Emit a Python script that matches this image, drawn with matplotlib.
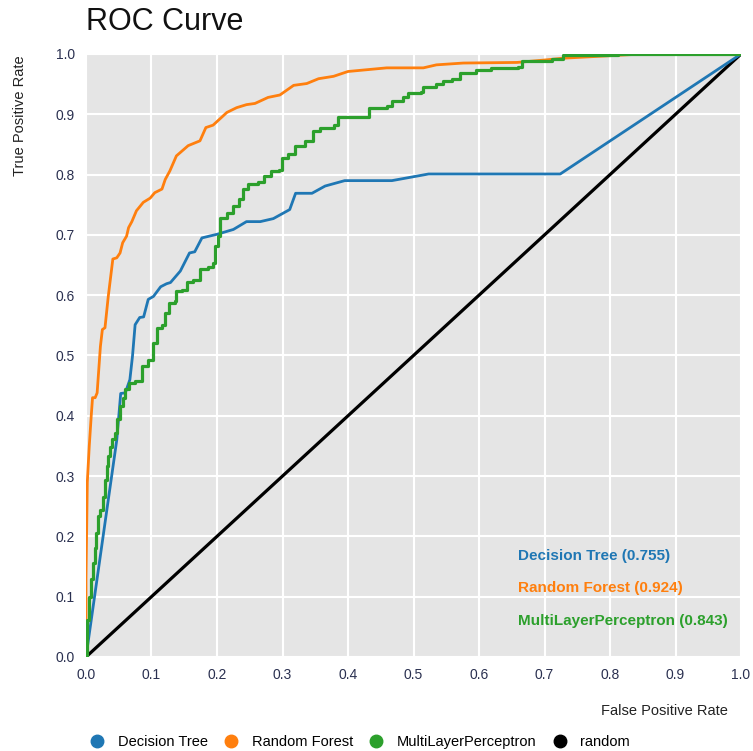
import matplotlib.pyplot as plt
from matplotlib.lines import Line2D

plt.rcParams['font.family'] = ['Liberation Sans', 'DejaVu Sans']

# ROC points
dt_fpr = [0.0, 0.047, 0.053, 0.060, 0.067, 0.071, 0.075, 0.082, 0.088, 0.095, 0.103,
          0.114, 0.123, 0.129, 0.144, 0.158, 0.166, 0.177, 0.200, 0.225, 0.245, 0.266,
          0.286, 0.311, 0.320, 0.345, 0.365, 0.395, 0.467, 0.523, 0.724, 1.0]
dt_tpr = [0.0, 0.36, 0.437, 0.438, 0.46, 0.499, 0.551, 0.563, 0.564, 0.593, 0.598,
          0.614, 0.619, 0.621, 0.640, 0.670, 0.672, 0.695, 0.701, 0.709, 0.722, 0.722,
          0.727, 0.742, 0.769, 0.769, 0.781, 0.790, 0.790, 0.801, 0.801, 1.0]

rf_fpr = [0.0, 0.0, 0.002, 0.005, 0.008, 0.010, 0.014, 0.017, 0.022, 0.025, 0.029,
          0.034, 0.041, 0.047, 0.052, 0.056, 0.062, 0.065, 0.070, 0.077, 0.0875, 0.098,
          0.105, 0.116, 0.121, 0.128, 0.138, 0.156, 0.174, 0.183, 0.194, 0.215, 0.230,
          0.245, 0.258, 0.278, 0.296, 0.317, 0.337, 0.355, 0.378, 0.400, 0.459, 0.515,
          0.535, 0.576, 0.658, 0.700, 0.728, 0.780, 0.850, 1.0]
rf_tpr = [0.0, 0.13, 0.29, 0.35, 0.40, 0.430, 0.430, 0.438, 0.515, 0.543, 0.546,
          0.598, 0.660, 0.662, 0.670, 0.687, 0.698, 0.712, 0.722, 0.740, 0.754, 0.761,
          0.770, 0.776, 0.792, 0.806, 0.831, 0.848, 0.856, 0.878, 0.882, 0.903, 0.911,
          0.916, 0.918, 0.928, 0.932, 0.948, 0.951, 0.959, 0.963, 0.971, 0.977, 0.977,
          0.982, 0.985, 0.986, 0.990, 0.993, 0.996, 1.0, 1.0]

mlp_fpr = [0.0, 0.002, 0.005, 0.008, 0.011, 0.014, 0.016, 0.019, 0.022, 0.026, 0.029,
           0.032, 0.034, 0.037, 0.040, 0.044, 0.048, 0.052, 0.056, 0.060, 0.066, 0.075,
           0.085, 0.095, 0.103, 0.108, 0.116, 0.121, 0.126, 0.136, 0.138, 0.146, 0.154,
           0.164, 0.174, 0.187, 0.194, 0.197, 0.202, 0.205, 0.215, 0.225, 0.233, 0.240,
           0.248, 0.263, 0.271, 0.283, 0.295, 0.299, 0.309, 0.319, 0.334, 0.347, 0.357,
           0.378, 0.385, 0.428, 0.432, 0.459, 0.467, 0.484, 0.492, 0.512, 0.515, 0.535,
           0.545, 0.558, 0.571, 0.596, 0.619, 0.660, 0.665, 0.711, 0.728, 0.812, 1.0]
mlp_tpr = [0.0, 0.061, 0.10, 0.13, 0.156, 0.18, 0.205, 0.233, 0.244, 0.266, 0.294,
           0.316, 0.334, 0.349, 0.362, 0.372, 0.394, 0.416, 0.430, 0.444, 0.455, 0.457,
           0.482, 0.493, 0.521, 0.546, 0.551, 0.571, 0.587, 0.590, 0.607, 0.609, 0.622,
           0.626, 0.644, 0.647, 0.654, 0.682, 0.698, 0.728, 0.737, 0.748, 0.759, 0.776,
           0.784, 0.787, 0.798, 0.806, 0.808, 0.828, 0.834, 0.848, 0.856, 0.873, 0.878,
           0.882, 0.896, 0.896, 0.911, 0.914, 0.922, 0.928, 0.936, 0.937, 0.945, 0.950,
           0.956, 0.959, 0.969, 0.973, 0.977, 0.979, 0.989, 0.992, 0.998, 1.0, 1.0]

names = ['Decision Tree', 'Random Forest', 'MultiLayerPerceptron', 'random']
aucs = [0.755, 0.924, 0.843]
colors = ['#1f77b4', '#ff7f0e', '#2ca02c', '#000000']

fig = plt.figure(figsize=(7.53, 7.51), dpi=100)
fig.set_facecolor('white')
ax = fig.add_axes([0.1142, 0.1252, 0.8699, 0.8029])
ax.set_facecolor('#e5e5e5')

ax.plot([0, 1], [0, 1], color=colors[3], linewidth=2.3, zorder=2)
ax.plot(dt_fpr, dt_tpr, color=colors[0], linewidth=2, zorder=3)
ax.plot(rf_fpr, rf_tpr, color=colors[1], linewidth=2, zorder=3)
ax.plot(mlp_fpr, mlp_tpr, color=colors[2], linewidth=2.3, drawstyle='steps-post', zorder=4)

ax.set_xlim(0, 1)
ax.set_ylim(0, 1)
ticks = [i / 10 for i in range(11)]
ax.set_xticks(ticks)
ax.set_yticks(ticks)
ax.set_xticklabels([f'{t:.1f}' for t in ticks])
ax.set_yticklabels([f'{t:.1f}' for t in ticks])
ax.tick_params(length=0, labelsize=10, colors='#2a3050', pad=8)
ax.grid(color='white', linewidth=1.5)
ax.set_axisbelow(True)
for s in ax.spines.values():
    s.set_visible(False)

# auc labels inside the plot
for i in range(3):
    ax.text(0.66, 0.168 - i * 0.054, f'{names[i]} ({aucs[i]})', color=colors[i],
            fontsize=11, fontweight='bold', va='center', ha='left')

fig.text(86 / 753, 1 - 22 / 751, 'ROC Curve', fontsize=22, ha='left', va='center', color='#111111')
fig.text(20 / 753, 1 - 55 / 751, 'True Positive Rate', fontsize=10.5, rotation=90,
         ha='center', va='top', color='#222222')
fig.text(728 / 753, 1 - 711 / 751, 'False Positive Rate', fontsize=10.5,
         ha='right', va='center', color='#222222')

handles = [Line2D([], [], linestyle='none', marker='o', markersize=9, color=c) for c in colors]
fig.legend(handles, names, loc='center', bbox_to_anchor=(0.478, 1 - 742 / 751), ncol=4,
           frameon=False, fontsize=10.5, handletextpad=0.9, columnspacing=1.1,
           handlelength=1.0)

fig.savefig('out.png', dpi=100)
